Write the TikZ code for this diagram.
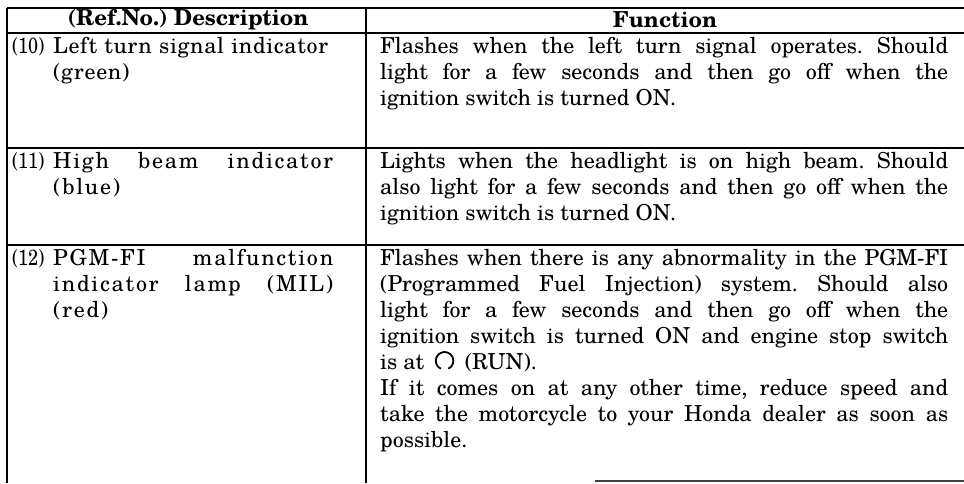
\documentclass[tikz,border=0pt]{standalone}
\usepackage{fontspec}
\setmainfont{TeX Gyre Schola}
\frenchspacing
\newcommand\runsym{\hspace{0.15em}\tikz[baseline={(0pt,0pt)}]\draw[line width=1.8pt] (0.17em,0.03em) arc[start angle=-65,end angle=245,radius=0.4em];\hspace{0.15em}}
\tikzset{
  rule/.style={line width=1.1pt,black},
  hdr/.style={font=\fontsize{22}{26}\selectfont\bfseries,inner sep=0pt},
  num/.style={anchor=north west,inner sep=0pt,font=\fontsize{22}{26}\selectfont\addfontfeature{FakeStretch=0.82}},
  desc/.style={anchor=north west,inner sep=0pt,text width=280pt,align=justify,font=\fontsize{22}{26}\selectfont\addfontfeature{LetterSpace=8}},
  desca/.style={anchor=north west,inner sep=0pt,text width=280pt,align=left,font=\fontsize{22}{26}\selectfont\addfontfeature{LetterSpace=3}},
  func/.style={anchor=north west,inner sep=0pt,text width=568pt,align=justify,font=\fontsize{22}{26}\selectfont}
}
\begin{document}
\begin{tikzpicture}[x=1pt,y=-1pt]
\useasboundingbox (0,0) rectangle (964,483);
% grid coordinates
\coordinate (tl) at (7,8);    \coordinate (tr) at (964,8);
\coordinate (hl) at (7,33);   \coordinate (hr) at (964,33);
\coordinate (al) at (7,148);  \coordinate (ar) at (964,148);
\coordinate (bl) at (7,245);  \coordinate (br) at (964,245);
\coordinate (lb) at (7,483);
\coordinate (dt) at (366,8);  \coordinate (db) at (366,483);
\coordinate (fl) at (595,481); \coordinate (fr) at (964,481);
\draw[rule] (tl) -- (tr);
\draw[rule] (hl) -- (hr);
\draw[rule] (al) -- (ar);
\draw[rule] (bl) -- (br);
\draw[rule] (tl) -- (lb);
\draw[rule] (dt) -- (db);
\draw[rule,black!75] (fl) -- (fr);
% header
\node[hdr] (h1) at (188,20) {(Ref.No.) Description};
\node[hdr] (h2) at (665,20) {Function};
% row 10
\node[num] (n10) at (12,37) {(10)};
\node[desca] (d10) at (53,37) {\mbox{Left turn signal indicator}\\(green)};
\node[func] (f10) at (380,37) {Flashes when the left turn signal operates. Should\linebreak light for a few seconds and then go off when the\linebreak ignition switch is turned ON.};
% row 11
\node[num] (n11) at (12,152) {(11)};
\node[desc] (d11) at (53,152) {High beam indicator\linebreak (blue)};
\node[func] (f11) at (380,152) {Lights when the headlight is on high beam. Should\linebreak also light for a few seconds and then go off when the\linebreak ignition switch is turned ON.};
% row 12
\node[num] (n12) at (12,249) {(12)};
\node[desc] (d12) at (53,249) {PGM-FI malfunction\linebreak indicator lamp (MIL)\linebreak (red)};
\node[func] (f12) at (380,249) {Flashes when there is any abnormality in the PGM-FI\linebreak (Programmed Fuel Injection) system. Should also\linebreak light for a few seconds and then go off when the\linebreak ignition switch is turned ON and engine stop switch\linebreak is at \runsym{} (RUN).\\If it comes on at any other time, reduce speed and\linebreak take the motorcycle to your Honda dealer as soon as\linebreak possible.};
\end{tikzpicture}
\end{document}
